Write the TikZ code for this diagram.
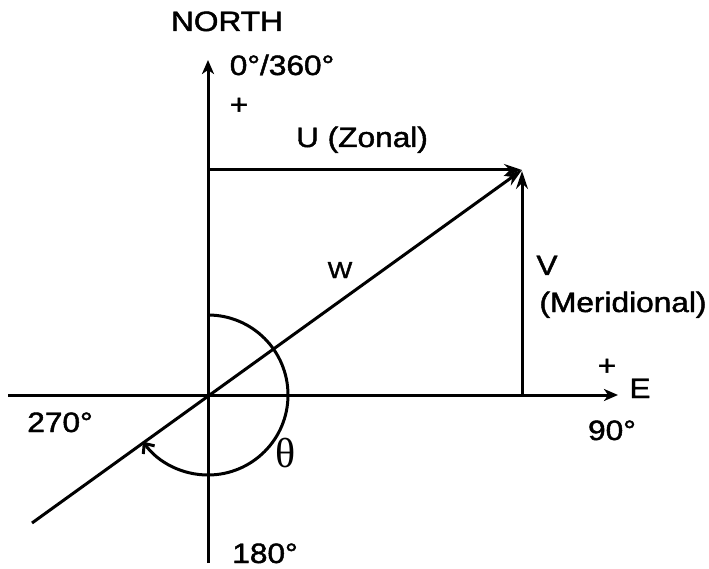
\documentclass[tikz,border=0pt]{standalone}
\usepackage{fontspec}
\setmainfont{Liberation Sans}
\newfontfamily\lblfont[FakeBold=1.5]{Liberation Sans}
\newfontfamily\thetafont{Liberation Serif}
\usetikzlibrary{arrows.meta}
\newcommand{\wide}[1]{\scalebox{1.13}[1]{#1}}
\begin{document}
\begin{tikzpicture}[x=1pt,y=1pt,
  ln/.style={line width=3pt},
  axisarrow/.style={ln,-{Stealth[length=14pt,width=12pt,inset=4pt]}},
  vecarrow/.style={ln,-{Stealth[length=18pt,width=12pt,inset=6pt]}},
  lbl/.style={inner sep=0pt,font=\fontsize{28}{30}\lblfont,anchor=base},
  small/.style={inner sep=0pt,font=\fontsize{23}{26}\lblfont,anchor=base}]
\useasboundingbox (0,0) rectangle (709,-569);
\coordinate (O) at (208,-395);
\coordinate (Nt) at (208,-60);
\coordinate (S) at (208,-563);
\coordinate (Wst) at (8,-395);
\coordinate (Et) at (618,-395);
\coordinate (C) at (522,-170);
\coordinate (Top) at (208,-170);
\coordinate (Vb) at (522,-395);
\coordinate (Wtail) at (32,-523);
% axes
\draw[axisarrow] (S) -- (Nt);
\draw[axisarrow] (Wst) -- (Et);
% vectors
\draw[vecarrow] (Top) -- (C);
\draw[vecarrow] (Vb) -- ([yshift=-1pt]C);
\draw[vecarrow] (Wtail) -- (C);
% angle arc
\draw[ln,-{Straight Barb[length=8pt,width=14pt]}] (208,-315) arc[start angle=90,end angle=-144.4,radius=80];
% labels
\node[lbl] (north) at (227,-31) {\wide{NORTH}};
\node[lbl] (zero) at (282,-75) {\wide{0°/360°}};
\node[inner sep=0pt,font=\fontsize{28}{30}\lblfont] (plusN) at (239,-106) {\wide{+}};
\node[lbl] (U) at (362,-147) {\wide{U (Zonal)}};
\node[small] (Wl) at (340,-278) {\wide{W}};
\node[lbl] (V) at (547,-275) {\wide{V}};
\node[lbl] (mer) at (623,-312) {\wide{(Meridional)}};
\node[inner sep=0pt,font=\fontsize{28}{30}\lblfont] (plusE) at (607,-367) {\wide{+}};
\node[lbl] (E) at (640,-398) {\wide{E}};
\node[lbl] (ninety) at (612,-440) {\wide{90°}};
\node[lbl] (twoseventy) at (60,-432) {\wide{270°}};
\node[lbl] (oneeighty) at (265,-563) {\wide{180°}};
\node[inner sep=0pt,font=\fontsize{42}{46}\thetafont] (theta) at (286,-453) {θ};
\end{tikzpicture}
\end{document}
